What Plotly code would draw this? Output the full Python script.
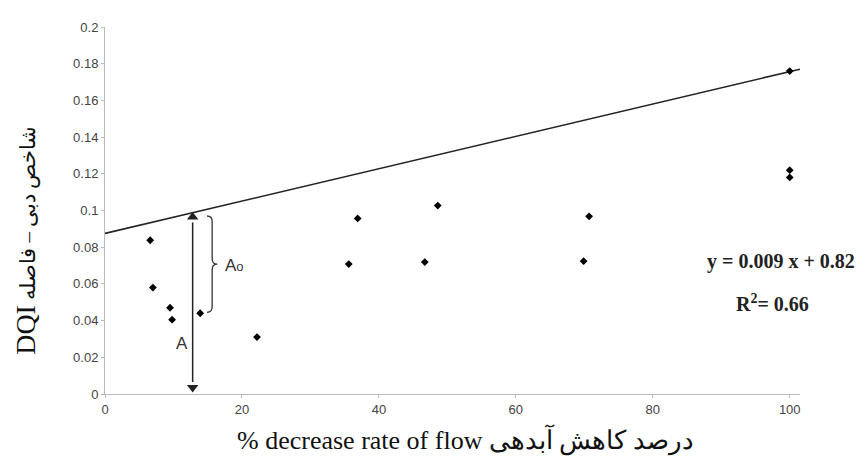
import plotly.graph_objects as go

# ---- data ----
flow_decrease = [6.6, 7.0, 9.5, 9.8, 13.9, 22.2, 35.6, 36.9, 46.7, 48.6, 69.9, 70.7, 100, 100, 100]
dqi = [0.0838, 0.058, 0.047, 0.0405, 0.044, 0.031, 0.0708, 0.0957, 0.0719, 0.1027,
       0.0724, 0.0968, 0.176, 0.122, 0.118]

line_x = [0, 101.5]
line_y = [0.0875, 0.177]

x_ticks = [0, 20, 40, 60, 80, 100]
y_ticks = [0, 0.02, 0.04, 0.06, 0.08, 0.1, 0.12, 0.14, 0.16, 0.18, 0.2]
y_tick_labels = ["0", "0.02", "0.04", "0.06", "0.08", "0.1", "0.12", "0.14", "0.16", "0.18", "0.2"]

arrow_x = 12.8
arrow_bottom = 0.0035
arrow_top = 0.0965

brace_x = 14.9
brace_bottom = 0.0445
brace_top = 0.097

fig = go.Figure()
fig.add_trace(go.Scatter(x=line_x, y=line_y, mode="lines",
                         line=dict(color="#222", width=1.6), hoverinfo="skip"))
fig.add_trace(go.Scatter(x=flow_decrease, y=dqi, mode="markers",
                         marker=dict(symbol="diamond", size=6, color="black")))

# double arrow A: shaft + heads
fig.add_shape(type="line", x0=arrow_x, x1=arrow_x, y0=arrow_bottom + 0.003, y1=arrow_top - 0.003,
              xref="x", yref="y", line=dict(color="#222", width=1.5))
fig.add_trace(go.Scatter(x=[arrow_x, arrow_x], y=[arrow_top, arrow_bottom], mode="markers",
                         marker=dict(symbol=["triangle-up", "triangle-down"], size=10, color="#222"),
                         hoverinfo="skip"))

# brace Ao
dx = 0.75
mid = (brace_top + brace_bottom) / 2
e = 0.003
path = (f"M {brace_x},{brace_top} "
        f"Q {brace_x + dx},{brace_top} {brace_x + dx},{brace_top - e} "
        f"L {brace_x + dx},{mid + e} "
        f"Q {brace_x + dx},{mid} {brace_x + 2 * dx},{mid} "
        f"Q {brace_x + dx},{mid} {brace_x + dx},{mid - e} "
        f"L {brace_x + dx},{brace_bottom + e} "
        f"Q {brace_x + dx},{brace_bottom} {brace_x},{brace_bottom}")
fig.add_shape(type="path", path=path, xref="x", yref="y",
              line=dict(color="#333", width=1.3))

fig.add_annotation(x=17.2, y=mid - 0.0008, xref="x", yref="y",
                   text="A<span style='font-size:13px'>o</span>", showarrow=False,
                   xanchor="left", font=dict(family="Arial", size=17, color="#333"))
fig.add_annotation(x=11.2, y=0.0276, xref="x", yref="y", text="A", showarrow=False,
                   font=dict(family="Arial", size=17, color="#333"))

fig.add_annotation(x=98.7, y=0.0724, xref="x", yref="y", text="<b>y = 0.009 x + 0.82</b>",
                   showarrow=False, font=dict(family="Liberation Serif", size=20, color="#222"))
fig.add_annotation(x=97.5, y=0.0497, xref="x", yref="y", text="<b>R<sup>2</sup>= 0.66</b>",
                   showarrow=False, font=dict(family="Liberation Serif", size=20, color="#222"))

# axis titles
fig.add_annotation(x=-0.1137, y=0.42, xref="paper", yref="paper",
                   text="<span style='font-size:28px'>DQI</span> شاخص دبی – فاصله",
                   textangle=-90, showarrow=False,
                   xanchor="center", yanchor="middle",
                   font=dict(family="Liberation Serif, DejaVu Serif", size=21, color="#111"))
fig.add_annotation(x=0.519, y=-0.124, xref="paper", yref="paper",
                   text="% decrease rate of flow درصد کاهش آبدهی", showarrow=False,
                   xanchor="center", yanchor="middle",
                   font=dict(family="Liberation Serif, DejaVu Serif", size=26, color="#111"))

fig.update_layout(
    width=855, height=458,
    margin=dict(l=97, r=63, t=16, b=72),
    paper_bgcolor="white", plot_bgcolor="white",
    showlegend=False,
    xaxis=dict(range=[0, 101.5], tickvals=x_ticks, showgrid=False, zeroline=False,
               showline=True, linecolor="#bbb", linewidth=1,
               ticks="outside", ticklen=3, tickcolor="#bbb",
               tickfont=dict(family="Arial", size=13, color="#444")),
    yaxis=dict(range=[0, 0.2], tickvals=y_ticks, ticktext=y_tick_labels, showgrid=False,
               zeroline=False, showline=True, linecolor="#bbb", linewidth=1,
               ticks="outside", ticklen=3, tickcolor="#bbb",
               tickfont=dict(family="Arial", size=13, color="#444")),
)

fig.write_html("out.html")
